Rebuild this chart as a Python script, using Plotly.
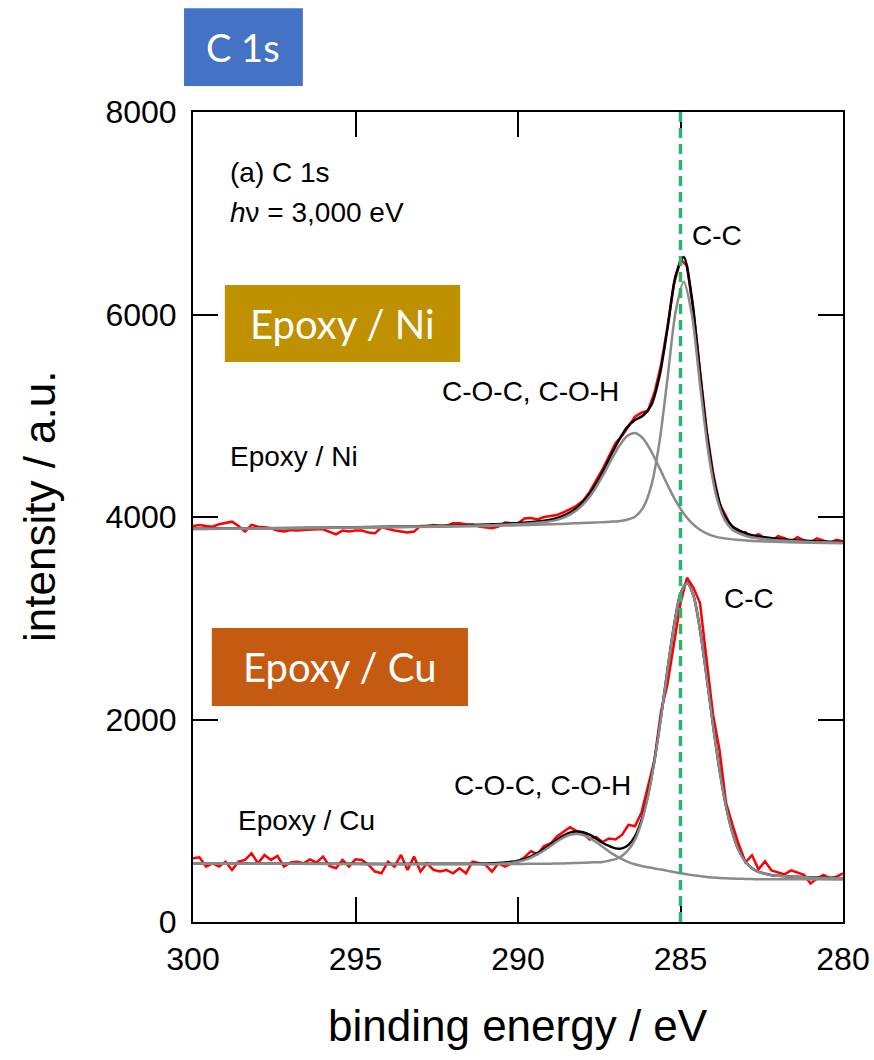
import plotly.graph_objects as go

# ---------------- data ----------------
be_raw = [300.0, 299.8, 299.6, 299.4, 299.2, 299.0, 298.8, 298.6, 298.4, 298.2,
          298.0, 297.8, 297.6, 297.4, 297.2, 297.0, 296.8, 296.6, 296.4, 296.2,
          296.0, 295.8, 295.6, 295.4, 295.2, 295.0, 294.8, 294.6, 294.4, 294.2,
          294.0, 293.8, 293.6, 293.4, 293.2, 293.0, 292.8, 292.6, 292.4, 292.2,
          292.0, 291.8, 291.6, 291.4, 291.2, 291.0, 290.8, 290.6, 290.4, 290.2,
          290.0, 289.8, 289.6, 289.4, 289.2, 289.0, 288.8, 288.6, 288.4, 288.2,
          288.0, 287.8, 287.6, 287.4, 287.2, 287.0, 286.8, 286.6, 286.4, 286.2,
          286.0, 285.8, 285.6, 285.4, 285.2, 285.0, 284.8, 284.6, 284.4, 284.2,
          284.0, 283.8, 283.6, 283.4, 283.2, 283.0, 282.8, 282.6, 282.4, 282.2,
          282.0, 281.8, 281.6, 281.4, 281.2, 281.0, 280.8, 280.6, 280.4, 280.2,
          280.0]

ni_raw = [3912, 3922, 3912, 3905, 3928, 3938, 3954, 3912, 3856, 3922,
          3905, 3899, 3889, 3866, 3856, 3872, 3866, 3872, 3879, 3879,
          3879, 3856, 3829, 3866, 3856, 3866, 3866, 3846, 3839, 3899,
          3879, 3866, 3856, 3846, 3856, 3912, 3912, 3922, 3912, 3912,
          3938, 3938, 3928, 3925, 3905, 3899, 3889, 3905, 3945, 3938,
          3938, 3985, 3990, 3975, 4000, 4010, 4020, 4045, 4075, 4110,
          4160, 4245, 4360, 4470, 4600, 4730, 4800, 4890, 4990, 5030,
          5050, 5230, 5500, 5880, 6300, 6545, 6480, 6030, 5440, 4870,
          4440, 4130, 4010, 3880, 3850, 3850, 3800, 3830, 3790, 3760,
          3810, 3790, 3760, 3800, 3770, 3750, 3790, 3770, 3745, 3775,
          3760]

cu_raw = [629, 639, 547, 580, 547, 596, 514, 596, 613, 679,
          580, 662, 613, 652, 547, 587, 596, 580, 619, 587,
          646, 554, 531, 613, 547, 619, 613, 564, 498, 481,
          596, 547, 662, 514, 646, 498, 580, 514, 498, 514,
          481, 531, 481, 596, 580, 564, 498, 580, 547, 580,
          596, 640, 700, 670, 750, 775, 845, 890, 935, 900,
          880, 815, 840, 790, 825, 815, 860, 960, 945, 1080,
          1330, 1600, 2080, 2350, 2750, 3150, 3400, 3300, 3150, 2600,
          2050, 1700, 1180, 960, 760, 590, 660, 520, 600, 510,
          490, 470, 510, 490, 465, 380, 430, 465, 430, 448,
          480]

be_ni_fit = [300, 298, 296, 294, 292.4, 291.4, 290.9, 290.65, 290.4, 290.15,
             289.9, 289.65, 289.4, 289.15, 288.9, 288.65, 288.4, 288.15, 287.9, 287.65,
             287.4, 287.15, 286.9, 286.65, 286.4, 286.15, 285.9, 285.65, 285.4, 285.15,
             284.9, 284.65, 284.4, 284.15, 283.9, 283.65, 283.4, 283.15, 282.9, 282.4,
             281.9, 281, 280]
ni_cc = [3881, 3887, 3892, 3898, 3904, 3909, 3912, 3913, 3915, 3917,
         3919, 3921, 3924, 3926, 3929, 3932, 3936, 3939, 3942, 3945,
         3949, 3954, 3959, 3973, 4003, 4092, 4307, 4735, 5368, 6028,
         6324, 5998, 5311, 4654, 4208, 3977, 3874, 3832, 3805, 3781,
         3767, 3752, 3745]
ni_coc = [3882, 3887, 3893, 3900, 3908, 3913, 3918, 3921, 3924, 3928,
          3931, 3937, 3942, 3951, 3964, 3987, 4023, 4078, 4158, 4267,
          4403, 4553, 4694, 4798, 4830, 4775, 4649, 4488, 4317, 4161,
          4034, 3939, 3874, 3831, 3804, 3789, 3779, 3774, 3765, 3758,
          3752, 3746, 3741]
ni_total = [3883, 3889, 3895, 3903, 3913, 3920, 3926, 3929, 3933, 3938,
            3942, 3949, 3956, 3966, 3981, 4006, 4045, 4103, 4187, 4301,
            4444, 4604, 4757, 4884, 4957, 5003, 5105, 5385, 5863, 6384,
            6569, 6162, 5420, 4728, 4260, 4017, 3906, 3860, 3828, 3799,
            3781, 3763, 3753]

be_cu_fit = [300, 298, 296, 294, 292, 291, 290.6, 290.4, 290.2, 290.0,
             289.8, 289.6, 289.4, 289.2, 289.0, 288.8, 288.6, 288.4, 288.2, 288.0,
             287.8, 287.6, 287.4, 287.2, 287.0, 286.8, 286.6, 286.4, 286.2, 286.0,
             285.8, 285.6, 285.4, 285.2, 285.0, 284.8, 284.6, 284.4, 284.2, 284.0,
             283.8, 283.6, 283.4, 283.2, 283.0, 282.8, 282.6, 282.4, 282.2, 282.0,
             281, 280]
cu_cc = [579, 577, 575, 573, 572, 572, 573, 573, 573, 574,
         574, 575, 575, 576, 576, 578, 579, 581, 582, 584,
         588, 590, 593, 606, 621, 653, 713, 814, 985, 1241,
         1591, 2020, 2487, 2923, 3240, 3348, 3220, 2884, 2430, 1946,
         1503, 1143, 879, 701, 594, 530, 494, 477, 461, 456,
         440, 432]
cu_coc = [578, 576, 574, 571, 570, 570, 573, 578, 584, 595,
          611, 636, 667, 706, 750, 795, 833, 861, 870, 859,
          830, 790, 743, 696, 655, 620, 592, 570, 554, 541,
          529, 518, 505, 493, 482, 471, 461, 453, 445, 439,
          434, 431, 429, 427, 425, 424, 423, 423, 422, 422,
          421, 420]
cu_total = [579, 577, 576, 574, 575, 577, 582, 587, 594, 606,
            623, 649, 681, 721, 766, 813, 853, 883, 894, 886,
            862, 825, 783, 751, 727, 727, 762, 846, 1006, 1255,
            1600, 2027, 2492, 2927, 3244, 3351, 3223, 2887, 2432, 1948,
            1505, 1145, 881, 703, 595, 531, 495, 478, 462, 457,
            441, 433]

x_ticks = [300, 295, 290, 285, 280]
y_ticks = [0, 2000, 4000, 6000, 8000]
ref_energy = 285

# ---------------- figure ----------------
RED = "#ff0000"
GRAY = "#8a8a8a"
BLACK = "#000000"
GREEN = "#2db56a"
FONT = "Liberation Sans, Arial, sans-serif"
BOXFONT = "Lato, Open Sans, sans-serif"

fig = go.Figure()

for y in (ni_raw, cu_raw):
    fig.add_trace(go.Scatter(x=be_raw, y=y, mode="lines",
                             line=dict(color=RED, width=2.5), hoverinfo="skip"))
fig.add_trace(go.Scatter(x=be_ni_fit, y=ni_total, mode="lines",
                         line=dict(color=BLACK, width=2.5, shape="spline", smoothing=0.8)))
fig.add_trace(go.Scatter(x=be_cu_fit, y=cu_total, mode="lines",
                         line=dict(color=BLACK, width=2.5, shape="spline", smoothing=0.8)))
for bx, y in ((be_ni_fit, ni_cc), (be_ni_fit, ni_coc), (be_cu_fit, cu_cc), (be_cu_fit, cu_coc)):
    fig.add_trace(go.Scatter(x=bx, y=y, mode="lines",
                             line=dict(color=GRAY, width=2.5, shape="spline", smoothing=0.8)))

# reference line
fig.add_shape(type="line", xref="x", yref="paper", x0=ref_energy, x1=ref_energy,
              y0=0, y1=1, line=dict(color=GREEN, width=3.5, dash="10px,6px"), layer="above")

# coloured label boxes
def box(x0, x1, y0, y1, color, text, size, xref="x", yref="y"):
    fig.add_shape(type="rect", xref=xref, yref=yref, x0=x0, x1=x1, y0=y0, y1=y1,
                  fillcolor=color, line=dict(width=0), layer="above")
    fig.add_annotation(xref=xref, yref=yref, x=(x0 + x1) / 2, y=(y0 + y1) / 2,
                       text=text, showarrow=False,
                       font=dict(family=BOXFONT, size=size, color="white"),
                       xanchor="center", yanchor="middle")

box(-0.0138, 0.169, 1.032, 1.128, "#4472c4", "C 1s", 38, xref="paper", yref="paper")
box(299.02, 291.78, 5531, 6291, "#bf9000", "Epoxy / Ni", 40)
box(299.42, 291.54, 2133, 2904, "#c55a11", "Epoxy / Cu", 40)

def label(x, y, text, size=28):
    fig.add_annotation(x=x, y=y, text=text, showarrow=False, xanchor="left",
                       yanchor="middle", font=dict(family=FONT, size=size, color="black"))

label(298.92, 7407, "(a) C 1s")
label(298.92, 7012, "<i>h</i>ν = 3,000 eV")
label(284.71, 6785, "C-C")
label(283.72, 3200, "C-C")
label(292.4, 5235, "C-O-C, C-O-H")
label(292.03, 1353, "C-O-C, C-O-H")
label(298.92, 4593, "Epoxy / Ni")
label(298.68, 1007, "Epoxy / Cu")

# axis titles
fig.add_annotation(xref="paper", yref="paper", x=(40 - 193) / 650, y=(922 - 507) / 810,
                   text="intensity / a.u.", textangle=-90, showarrow=False,
                   xanchor="center", yanchor="middle",
                   font=dict(family=FONT, size=44, color="black"))
fig.add_annotation(xref="paper", yref="paper", x=0.5, y=(922 - 1025) / 810,
                   text="binding energy / eV", showarrow=False,
                   xanchor="center", yanchor="middle",
                   font=dict(family=FONT, size=44, color="black"))

axis_common = dict(showline=True, linecolor="black", linewidth=2, mirror="ticks",
                   ticks="inside", ticklen=25, tickwidth=2, tickcolor="black",
                   showgrid=False, zeroline=False, automargin=False,
                   tickfont=dict(family=FONT, size=32, color="black"))

fig.update_xaxes(range=[300, 280], tickvals=x_ticks, ticktext=[str(v) for v in x_ticks],
                 ticklabelstandoff=8, **axis_common)
fig.update_yaxes(range=[0, 8000], tickvals=y_ticks, ticktext=[str(v) for v in y_ticks],
                 ticklabelstandoff=8, **axis_common)

fig.update_layout(width=874, height=1060, showlegend=False,
                  margin=dict(l=193, r=31, t=112, b=138, autoexpand=False),
                  paper_bgcolor="white", plot_bgcolor="white")

fig.write_html("out.html")
